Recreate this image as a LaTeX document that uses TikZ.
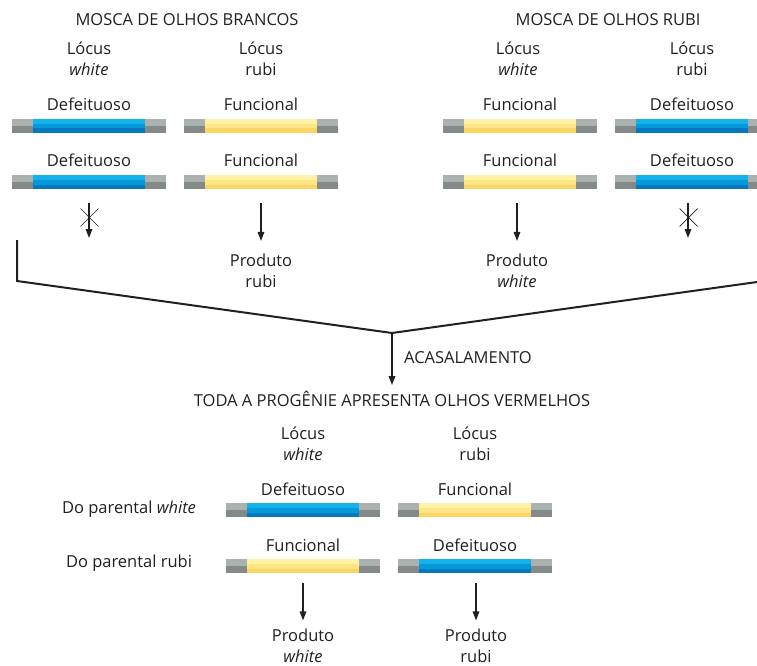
\documentclass[tikz,border=0pt]{standalone}
\usepackage{fontspec}
\setmainfont{Open Sans}
\usetikzlibrary{arrows.meta}
\definecolor{blueA}{HTML}{12B2EC}
\definecolor{blueB}{HTML}{0798DA}
\definecolor{blueC}{HTML}{0479C0}
\definecolor{yelA}{HTML}{FFF2A6}
\definecolor{yelB}{HTML}{FFE585}
\definecolor{yelC}{HTML}{FCD664}
\definecolor{grayA}{HTML}{ABB1AE}
\definecolor{grayB}{HTML}{838A87}
\definecolor{txt}{HTML}{231F20}
\tikzset{
  lbl/.style={font=\fontsize{16.5}{21}\selectfont, text=txt, inner sep=2pt, align=center},
  chrom/.style n args={3}{rectangle, minimum width=154pt, minimum height=14pt, inner sep=0pt,
    path picture={
      \fill[grayA] (path picture bounding box.north west) rectangle (path picture bounding box.east);
      \fill[grayB] (path picture bounding box.west) rectangle (path picture bounding box.south east);
      \fill[#1] ([xshift=21pt]path picture bounding box.north west) rectangle ([xshift=-21pt,yshift=-5pt]path picture bounding box.north east);
      \fill[#2] ([xshift=21pt,yshift=-5pt]path picture bounding box.north west) rectangle ([xshift=-21pt,yshift=-9.5pt]path picture bounding box.north east);
      \fill[#3] ([xshift=21pt,yshift=-9.5pt]path picture bounding box.north west) rectangle ([xshift=-21pt]path picture bounding box.south east);
    }},
  def/.style={chrom={blueA}{blueB}{blueC}},
  fun/.style={chrom={yelA}{yelB}{yelC}},
  arr/.style={line width=1.5pt, draw=txt, -{Triangle[length=9pt,width=6.5pt]}},
  mline/.style={line width=2pt, draw=txt},
  xmark/.style={line width=0.7pt, draw=txt}
}
\begin{document}
\begin{tikzpicture}[x=1pt,y=-1pt]
\useasboundingbox (0,0) rectangle (757,666);
% ---- top left fly
\node[lbl] (tA) at (187,20) {MOSCA DE OLHOS BRANCOS};
\node[lbl] (lA) at (89,58.5) {Lócus\\\textit{white}};
\node[lbl] (lB) at (261,58.5) {Lócus\\rubi};
\node[lbl] (dA1) at (89,104) {Defeituoso};
\node[def] (bA1) at (89,126) {};
\node[lbl] (dA2) at (89,160) {Defeituoso};
\node[def] (bA2) at (89,182) {};
\node[lbl] (fB1) at (261,104) {Funcional};
\node[fun] (bB1) at (261,126) {};
\node[lbl] (fB2) at (261,160) {Funcional};
\node[fun] (bB2) at (261,182) {};
% ---- top right fly
\node[lbl] (tC) at (608,20) {MOSCA DE OLHOS RUBI};
\node[lbl] (lC) at (518,58.5) {Lócus\\\textit{white}};
\node[lbl] (lD) at (692,58.5) {Lócus\\rubi};
\node[lbl] (fC1) at (520,104) {Funcional};
\node[fun] (bC1) at (520,126) {};
\node[lbl] (fC2) at (520,160) {Funcional};
\node[fun] (bC2) at (520,182) {};
\node[lbl] (dD1) at (692,104) {Defeituoso};
\node[def] (bD1) at (692,126) {};
\node[lbl] (dD2) at (692,160) {Defeituoso};
\node[def] (bD2) at (692,182) {};
% ---- top arrows
\coordinate (xA) at (89,238);
\draw[arr] (89,203) -- (xA);
\draw[xmark] (80.5,208.5) -- (98.5,226.5) (98.5,208.5) -- (80.5,226.5);
\node[lbl] (pB) at (261,271) {Produto\\rubi};
\draw[arr] ([yshift=-14pt]bB2.south) -- ([yshift=11pt]pB.north);
\node[lbl] (pC) at (517,271) {Produto\\\textit{white}};
\draw[arr] ([xshift=-3pt,yshift=-14pt]bC2.south) -- ([yshift=11pt]pC.north);
\coordinate (xD) at (688,238);
\draw[arr] (688,203) -- (xD);
\draw[xmark] (679.5,208.5) -- (697.5,226.5) (697.5,208.5) -- (679.5,226.5);
% ---- merge
\coordinate (mL0) at (17,240);
\coordinate (mL1) at (17,281);
\coordinate (mR) at (757,282);
\coordinate (mC) at (392,333);
\draw[mline, line join=miter] (mL0) -- (mL1) -- (mC) -- (mR);
\node[lbl, anchor=west] (acas) at (402,358) {ACASALAMENTO};
\node[lbl] (toda) at (392,399) {TODA A PROGÊNIE APRESENTA OLHOS VERMELHOS};
\draw[arr] (mC) -- ([yshift=4pt]toda.north);
% ---- progeny
\node[lbl] (lE) at (303,443.5) {Lócus\\\textit{white}};
\node[lbl] (lF) at (475,443.5) {Lócus\\rubi};
\node[lbl] (dE1) at (303,489) {Defeituoso};
\node[def] (bE1) at (303,510) {};
\node[lbl] (fE2) at (303,545) {Funcional};
\node[fun] (bE2) at (303,566) {};
\node[lbl] (fF1) at (475,489) {Funcional};
\node[fun] (bF1) at (475,510) {};
\node[lbl] (dF2) at (475,545) {Defeituoso};
\node[def] (bF2) at (475,566) {};
\node[lbl] (pw) at (129,509) {Do parental \textit{white}};
\node[lbl] (pr) at (129,563) {Do parental rubi};
\node[lbl, inner sep=0pt] (pE) at (303,645.5) {Produto\\\textit{white}};
\draw[arr] ([yshift=-10pt]bE2.south) -- ([yshift=8pt]pE.north);
\node[lbl, inner sep=0pt] (pF) at (476,645.5) {Produto\\rubi};
\draw[arr] ([xshift=1pt,yshift=-10pt]bF2.south) -- ([yshift=8pt]pF.north);
\end{tikzpicture}
\end{document}
